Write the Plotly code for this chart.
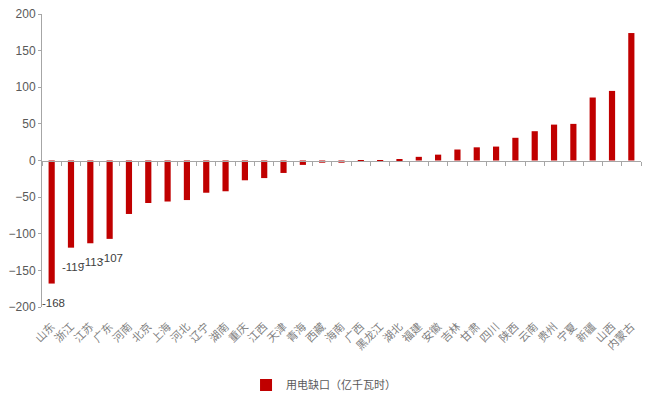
import plotly.graph_objects as go

categories = ["山东", "浙江", "江苏", "广东", "河南", "北京", "上海", "河北", "辽宁", "湖南",
              "重庆", "江西", "天津", "青海", "西藏", "海南", "广西", "黑龙江", "湖北", "福建",
              "安徽", "吉林", "甘肃", "四川", "陕西", "云南", "贵州", "宁夏", "新疆", "山西", "内蒙古"]
values = [-168, -119, -113, -107, -73, -58, -56, -54, -44, -42,
          -27, -24, -17, -6, -3, -3, -2, -1, 2, 5,
          8, 15, 18, 19, 31, 40, 49, 50, 86, 95, 174]
series_name = "用电缺口（亿千瓦时）"
y_ticks = [200, 150, 100, 50, 0, -50, -100, -150, -200]
label_threshold = -100

RED = "#C00000"
GREY = "#595959"
AXIS = "#A6A6A6"

fig = go.Figure()
fig.add_trace(go.Bar(x=categories, y=values, name=series_name, marker_color=RED,
                     marker_line_width=0, width=0.32, xaxis="x", yaxis="y"))
# helper invisible trace to drive the zero-line category axis (ticks at boundaries)
fig.add_trace(go.Scatter(x=categories, y=[0] * len(categories), mode="markers",
                         marker=dict(opacity=0), showlegend=False, hoverinfo="skip",
                         xaxis="x2", yaxis="y"))

for c, v in zip(categories, values):
    if v <= label_threshold:
        fig.add_annotation(x=c, y=v, text=str(v), showarrow=False, yshift=-19, xshift=2,
                           font=dict(family="Liberation Sans, Arial", size=11.5, color="#404040"))

n = len(categories)
fig.update_layout(
    width=643, height=386,
    margin=dict(l=34, r=10, t=6, b=87, autoexpand=False),
    plot_bgcolor="white", paper_bgcolor="white",
    showlegend=True,
    legend=dict(orientation="h", x=0.47, xanchor="center", y=-0.266, yanchor="middle",
                font=dict(family="Noto Sans CJK SC", size=11, color=GREY),
                itemwidth=30, bgcolor="rgba(0,0,0,0)"),
    xaxis=dict(type="category", range=[-0.5, n - 0.5], showline=False, ticks="",
               tickangle=-45, ticklabelstandoff=10, automargin=False,
               tickfont=dict(family="Noto Sans CJK SC", size=11, color="#7F7F7F"),
               showgrid=False, zeroline=False),
    xaxis2=dict(type="category", range=[-0.5, n - 0.5], overlaying="x", anchor="free",
                position=0.5, side="bottom", showline=True, linecolor=AXIS, linewidth=1,
                ticks="outside", ticklen=4, tickcolor=AXIS, tickson="boundaries",
                showticklabels=False, showgrid=False, zeroline=False, automargin=False),
    yaxis=dict(range=[-200, 200], tickvals=y_ticks, showline=True, linecolor=AXIS,
               linewidth=1, ticks="outside", ticklen=3, tickcolor=AXIS, showgrid=False,
               zeroline=False, automargin=False, ticklabeloverflow="allow",
               tickfont=dict(family="Liberation Sans, Arial", size=12, color=GREY)),
)

fig.write_html("out.html")
